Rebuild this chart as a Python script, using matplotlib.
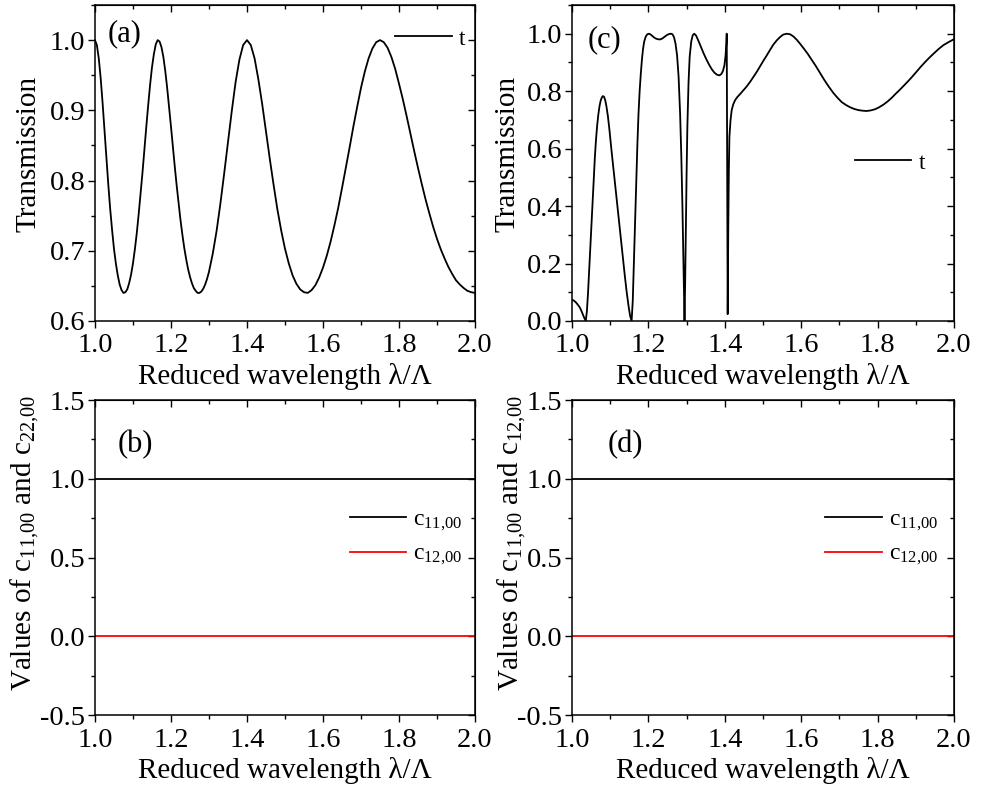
import matplotlib
matplotlib.use("Agg")
import matplotlib.pyplot as plt
from matplotlib.ticker import MultipleLocator

plt.rcParams['font.family'] = ['Liberation Serif', 'DejaVu Serif']
plt.rcParams['mathtext.fontset'] = 'custom'
plt.rcParams['mathtext.rm'] = 'Liberation Serif'
plt.rcParams['mathtext.it'] = 'Liberation Serif:italic'
plt.rcParams['axes.unicode_minus'] = False

# (a) transmission
wl_a = [1.000, 1.005, 1.010, 1.015, 1.020, 1.025, 1.030, 1.035, 1.040, 1.045,
        1.050, 1.055, 1.060, 1.065, 1.070, 1.075, 1.080, 1.085, 1.090, 1.095,
        1.100, 1.105, 1.110, 1.115, 1.120, 1.125, 1.130, 1.135, 1.140, 1.145,
        1.150, 1.155, 1.160, 1.165, 1.170, 1.175, 1.180, 1.185, 1.190, 1.195,
        1.200, 1.205, 1.210, 1.215, 1.220, 1.225, 1.230, 1.235, 1.240, 1.245,
        1.250, 1.255, 1.260, 1.265, 1.270, 1.275, 1.280, 1.285, 1.290, 1.295,
        1.30, 1.31, 1.32, 1.33, 1.34, 1.35, 1.36, 1.37, 1.38, 1.39,
        1.40, 1.41, 1.42, 1.43, 1.44, 1.45, 1.46, 1.47, 1.48, 1.49,
        1.50, 1.51, 1.52, 1.53, 1.54, 1.55, 1.56, 1.57, 1.58, 1.59,
        1.60, 1.61, 1.62, 1.63, 1.64, 1.65, 1.66, 1.67, 1.68, 1.69,
        1.70, 1.71, 1.72, 1.73, 1.74, 1.75, 1.76, 1.77, 1.78, 1.79,
        1.80, 1.81, 1.82, 1.83, 1.84, 1.85, 1.86, 1.87, 1.88, 1.89,
        1.90, 1.91, 1.92, 1.93, 1.94, 1.95, 1.96, 1.97, 1.98, 1.99, 2.00]
t_a = [1.000, 0.993, 0.974, 0.946, 0.911, 0.872, 0.833, 0.795, 0.760, 0.730,
       0.703, 0.682, 0.665, 0.652, 0.644, 0.640, 0.641, 0.645, 0.654, 0.666,
       0.682, 0.702, 0.725, 0.752, 0.781, 0.811, 0.844, 0.876, 0.907, 0.936,
       0.961, 0.980, 0.994, 1.000, 0.998, 0.990, 0.976, 0.956, 0.932, 0.905,
       0.877, 0.848, 0.820, 0.793, 0.768, 0.744, 0.723, 0.704, 0.688, 0.674,
       0.663, 0.654, 0.647, 0.643, 0.640, 0.640, 0.642, 0.646, 0.652, 0.660,
       0.670, 0.696, 0.728, 0.767, 0.810, 0.855, 0.899, 0.940, 0.972, 0.993,
       1.000, 0.993, 0.974, 0.944, 0.909, 0.870, 0.831, 0.794, 0.759, 0.729,
       0.703, 0.682, 0.665, 0.653, 0.645, 0.641, 0.640, 0.644, 0.651, 0.662,
       0.676, 0.693, 0.713, 0.736, 0.761, 0.789, 0.818, 0.847, 0.877, 0.905,
       0.932, 0.955, 0.974, 0.988, 0.997, 1.000, 0.997, 0.989, 0.976, 0.959,
       0.938, 0.916, 0.892, 0.867, 0.842, 0.818, 0.795, 0.773, 0.753, 0.734,
       0.717, 0.702, 0.689, 0.677, 0.667, 0.658, 0.652, 0.647, 0.643, 0.641, 0.640]

# (c) transmission
wl_c = [1.000, 1.005, 1.010, 1.015, 1.020, 1.024, 1.028, 1.032, 1.036, 1.039,
        1.042, 1.045, 1.048, 1.051, 1.054, 1.057, 1.060, 1.063, 1.066, 1.069,
        1.072, 1.075, 1.078, 1.081, 1.084, 1.087, 1.090, 1.094, 1.098, 1.103,
        1.108, 1.114, 1.120, 1.126, 1.132, 1.138, 1.143, 1.148, 1.152, 1.156,
        1.159, 1.162, 1.165, 1.168, 1.171, 1.174, 1.177, 1.180, 1.183, 1.186,
        1.189, 1.193, 1.197, 1.202, 1.207, 1.212, 1.218, 1.224, 1.230, 1.236,
        1.242, 1.248, 1.254, 1.259, 1.263, 1.267, 1.271, 1.275, 1.279, 1.283,
        1.286, 1.289, 1.291, 1.293, 1.2945, 1.296, 1.298, 1.300, 1.302, 1.305,
        1.308, 1.312, 1.316, 1.320, 1.325, 1.331, 1.338, 1.345, 1.352, 1.359,
        1.366, 1.373, 1.380, 1.386, 1.391, 1.395, 1.399, 1.402, 1.404, 1.405,
        1.4062, 1.4075, 1.4090, 1.4105, 1.412, 1.415, 1.418, 1.422, 1.427, 1.433,
        1.440, 1.448, 1.457, 1.466, 1.475, 1.484, 1.492, 1.501, 1.510, 1.519,
        1.527, 1.536, 1.545, 1.553, 1.562, 1.571, 1.580, 1.589, 1.597, 1.607,
        1.617, 1.627, 1.638, 1.649, 1.660, 1.672, 1.684, 1.695, 1.706, 1.717,
        1.728, 1.739, 1.750, 1.761, 1.771, 1.782, 1.793, 1.804, 1.815, 1.826,
        1.837, 1.848, 1.859, 1.870, 1.880, 1.891, 1.902, 1.913, 1.924, 1.935,
        1.946, 1.959, 1.972, 1.986, 2.000]
t_c = [0.074, 0.071, 0.065, 0.057, 0.048, 0.037, 0.024, 0.011, 0.000, 0.035,
       0.100, 0.180, 0.260, 0.345, 0.425, 0.505, 0.575, 0.635, 0.683, 0.720,
       0.748, 0.767, 0.778, 0.783, 0.780, 0.768, 0.748, 0.712, 0.665, 0.598,
       0.535, 0.462, 0.386, 0.310, 0.233, 0.160, 0.102, 0.052, 0.018, 0.000,
       0.070, 0.200, 0.340, 0.480, 0.610, 0.720, 0.800, 0.860, 0.910, 0.948,
       0.973, 0.990, 0.998, 1.000, 0.996, 0.990, 0.984, 0.981, 0.980, 0.983,
       0.989, 0.995, 0.999, 1.000, 0.998, 0.988, 0.965, 0.925, 0.850, 0.720,
       0.580, 0.400, 0.250, 0.100, 0.000, 0.120, 0.330, 0.520, 0.680, 0.830,
       0.920, 0.972, 0.995, 1.000, 0.993, 0.975, 0.952, 0.930, 0.910, 0.892,
       0.876, 0.864, 0.857, 0.855, 0.860, 0.870, 0.890, 0.925, 0.965, 1.000,
       0.500, 0.024, 0.320, 0.520, 0.641, 0.700, 0.734, 0.754, 0.769, 0.780,
       0.790, 0.802, 0.816, 0.832, 0.850, 0.868, 0.886, 0.906, 0.925, 0.945,
       0.962, 0.977, 0.989, 0.997, 1.000, 0.998, 0.990, 0.978, 0.965, 0.948,
       0.930, 0.910, 0.888, 0.864, 0.840, 0.816, 0.794, 0.777, 0.762, 0.752,
       0.744, 0.738, 0.734, 0.732, 0.731, 0.733, 0.737, 0.744, 0.753, 0.764,
       0.777, 0.792, 0.806, 0.821, 0.835, 0.851, 0.868, 0.885, 0.901, 0.916,
       0.930, 0.946, 0.960, 0.971, 0.981]

# (b), (d) coefficients
wl_bd = [1.0, 1.2, 1.4, 1.6, 1.8, 2.0]
c11 = [1.0, 1.0, 1.0, 1.0, 1.0, 1.0]
c12 = [0.0, 0.0, 0.0, 0.0, 0.0, 0.0]

TICK_FS = 20.5
LABEL_FS = 21
PANEL_FS = 22
LEG_FS = 17

fig = plt.figure(figsize=(9.81, 7.92), dpi=100)
ax_a = fig.add_axes([0.0968, 0.5947, 0.3874, 0.3990])
ax_c = fig.add_axes([0.5831, 0.5947, 0.3894, 0.3990])
ax_b = fig.add_axes([0.0968, 0.0972, 0.3874, 0.3977])
ax_d = fig.add_axes([0.5831, 0.0972, 0.3894, 0.3977])


def style_axes(ax, ymaj, ymin):
    ax.set_xlim(1.0, 2.0)
    ax.xaxis.set_major_locator(MultipleLocator(0.2))
    ax.xaxis.set_minor_locator(MultipleLocator(0.1))
    ax.yaxis.set_major_locator(MultipleLocator(ymaj))
    ax.yaxis.set_minor_locator(MultipleLocator(ymin))
    ax.tick_params(which='both', direction='out', top=False, right=False,
                   labelsize=TICK_FS, width=1.0)
    ax.tick_params(axis='x', pad=4)
    ax.tick_params(axis='y', pad=2)
    ax.tick_params(which='major', length=5)
    ax.tick_params(which='minor', length=3)
    for s in ax.spines.values():
        s.set_linewidth(1.1)
    # inward ticks on the opposite sides
    sec = ax.secondary_xaxis('top')
    sec.xaxis.set_major_locator(MultipleLocator(0.2))
    sec.xaxis.set_minor_locator(MultipleLocator(0.1))
    sec.tick_params(which='both', direction='in', labeltop=False, width=1.0)
    sec.tick_params(which='major', length=5)
    sec.tick_params(which='minor', length=3)
    secy = ax.secondary_yaxis('right')
    secy.yaxis.set_major_locator(MultipleLocator(ymaj))
    secy.yaxis.set_minor_locator(MultipleLocator(ymin))
    secy.tick_params(which='both', direction='in', labelright=False, width=1.0)
    secy.tick_params(which='major', length=5)
    secy.tick_params(which='minor', length=3)
    ax.set_xlabel('Reduced wavelength λ/Λ', fontsize=LABEL_FS, va='center')
    ax.xaxis.set_label_coords(0.5, -0.175)


# (a)
ax_a.plot(wl_a, t_a, color='black', lw=1.3, label='t')
ax_a.set_ylim(0.6, 1.05)
style_axes(ax_a, 0.1, 0.05)
ax_a.set_ylabel('Transmission', fontsize=LABEL_FS, va='center')
ax_a.yaxis.set_label_coords(-0.176, 0.53)
ax_a.text(0.034, 0.908, '(a)', transform=ax_a.transAxes, fontsize=PANEL_FS,
          ha='left', va='center')
ax_a.legend(loc='center left', bbox_to_anchor=(0.79, 0.893), frameon=False,
            fontsize=LEG_FS, handlelength=2.4, handletextpad=0.3,
            borderpad=0, borderaxespad=0)

# (c)
ax_c.plot(wl_c, t_c, color='black', lw=1.3, label='t')
ax_c.set_ylim(0.0, 1.1)
style_axes(ax_c, 0.2, 0.1)
ax_c.set_ylabel('Transmission', fontsize=LABEL_FS, va='center')
ax_c.yaxis.set_label_coords(-0.168, 0.53)
ax_c.text(0.042, 0.889, '(c)', transform=ax_c.transAxes, fontsize=PANEL_FS,
          ha='left', va='center')
ax_c.legend(loc='center left', bbox_to_anchor=(0.74, 0.50), frameon=False,
            fontsize=LEG_FS, handlelength=2.4, handletextpad=0.3,
            borderpad=0, borderaxespad=0)

# (b) and (d)
for ax, tag, ylab, lx, legx, tx in [
        (ax_b, '(b)', 'Values of c$_{11{,}00}$ and c$_{22{,}00}$', -0.184, 0.67, 0.06),
        (ax_d, '(d)', 'Values of c$_{11{,}00}$ and c$_{12{,}00}$', -0.157, 0.663, 0.092)]:
    ax.plot(wl_bd, c11, color='black', lw=1.3, label='c$_{11{,}00}$')
    ax.plot(wl_bd, c12, color='red', lw=1.3, label='c$_{12{,}00}$')
    ax.set_ylim(-0.5, 1.5)
    style_axes(ax, 0.5, 0.25)
    ax.set_ylabel(ylab, fontsize=LABEL_FS, va='center')
    ax.yaxis.set_label_coords(lx, 0.545)
    ax.text(tx, 0.858, tag, transform=ax.transAxes, fontsize=PANEL_FS,
            ha='left', va='center')
    ax.legend(loc='center left', bbox_to_anchor=(legx, 0.562), frameon=False,
              fontsize=LEG_FS, handlelength=2.4, handletextpad=0.3,
              labelspacing=0.45, borderpad=0, borderaxespad=0)

fig.savefig('out.png', dpi=100)
